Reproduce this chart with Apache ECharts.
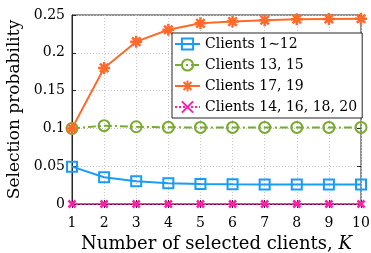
<!DOCTYPE html>
<html>
<head>
<meta charset="utf-8">
<script src="https://cdn.jsdelivr.net/npm/echarts@6/dist/echarts.min.js"></script>
<style>
  html, body { margin: 0; padding: 0; background: #fff; }
  #chart { width: 371px; height: 253px; }
</style>
</head>
<body>
<div id="chart"></div>
<script>
// data
var kValues = ['1', '2', '3', '4', '5', '6', '7', '8', '9', '10']
var clients1to12 = [0.0494, 0.0353, 0.0300, 0.0273, 0.0265, 0.0260, 0.0259, 0.0259, 0.0259, 0.0259]
var clients13and15 = [0.1000, 0.1036, 0.1022, 0.1014, 0.1013, 0.1013, 0.1013, 0.1013, 0.1013, 0.1013]
var clients17and19 = [0.1000, 0.1800, 0.2147, 0.2305, 0.2390, 0.2413, 0.2432, 0.2445, 0.2448, 0.2450]
var clients14to20 = [0, 0, 0, 0, 0, 0, 0, 0, 0, 0]
var yTicks = [0, 0.05, 0.1, 0.15, 0.2, 0.25]

var font = 'DejaVu Serif'
var asterisk = 'path://M0,-5L0,5M-5,0L5,0M-3.5,-3.5L3.5,3.5M-3.5,3.5L3.5,-3.5'
var cross = 'path://M-4,-4L4,4M-4,4L4,-4'

var chart = echarts.init(document.getElementById('chart'))
var option = {
    animation: false,
    textStyle: { fontFamily: font },
    grid: {
        left: 72,
        right: 10,
        top: 15,
        bottom: 49,
        outerBoundsMode: 'none',
        containLabel: false,
        show: true,
        borderColor: '#262626',
        borderWidth: 1
    },
    legend: {
        orient: 'vertical',
        left: 172,
        top: 33,
        padding: [4, 5, 4, 2],
        itemWidth: 25,
        itemHeight: 14,
        itemGap: 7,
        backgroundColor: '#fff',
        borderColor: '#262626',
        borderWidth: 1,
        borderRadius: 0,
        textStyle: { fontFamily: font, fontSize: 14, color: '#000' },
        data: ['Clients 1\u223C12', 'Clients 13, 15', 'Clients 17, 19', 'Clients 14, 16, 18, 20']
    },
    xAxis: [{
        type: 'category',
        boundaryGap: false,
        data: kValues,
        axisLine: { lineStyle: { color: '#262626' } },
        axisTick: { inside: true, length: 4, lineStyle: { color: '#262626' } },
        axisLabel: { color: '#000', fontSize: 14, margin: 12 },
        splitLine: { show: true, lineStyle: { color: '#c8c8c8', type: [1, 2] } },
        name: 'Number of selected clients, {i|K}',
        nameLocation: 'middle',
        nameGap: 29,
        nameTextStyle: {
            color: '#000', fontSize: 18,
            rich: { i: { fontStyle: 'italic', fontSize: 18, color: '#000', fontFamily: font } }
        }
    }, {
        type: 'category',
        position: 'top',
        boundaryGap: false,
        data: kValues,
        axisLine: { show: false },
        axisTick: { inside: true, length: 4, lineStyle: { color: '#262626' } },
        axisLabel: { show: false },
        splitLine: { show: false }
    }],
    yAxis: [{
        type: 'value',
        min: yTicks[0],
        max: yTicks[yTicks.length - 1],
        interval: 0.05,
        axisLine: { show: true, lineStyle: { color: '#262626' } },
        axisTick: { show: true, inside: true, length: 4, lineStyle: { color: '#262626' } },
        axisLabel: { color: '#000', fontSize: 14, margin: 7 },
        splitLine: { show: true, lineStyle: { color: '#c8c8c8', type: [1, 2] } },
        name: 'Selection probability',
        nameLocation: 'middle',
        nameGap: 48,
        nameTextStyle: { color: '#000', fontSize: 17 }
    }, {
        type: 'value',
        position: 'right',
        min: yTicks[0],
        max: yTicks[yTicks.length - 1],
        interval: 0.05,
        axisLine: { show: false },
        axisTick: { show: true, inside: true, length: 4, lineStyle: { color: '#262626' } },
        axisLabel: { show: false },
        splitLine: { show: false }
    }],
    series: [
        {
            name: 'Clients 14, 16, 18, 20',
            type: 'line',
            data: clients14to20,
            z: 5,
            symbol: cross,
            symbolSize: 7,
            lineStyle: { color: '#ff1fa8', width: 2, type: [2, 2] },
            itemStyle: { color: 'rgba(0,0,0,0)', borderColor: '#ff1fa8', borderWidth: 2.5 }
        },
        {
            name: 'Clients 1\u223C12',
            type: 'line',
            data: clients1to12,
            symbol: 'path://M-5,-5L5,-5L5,5L-5,5Z',
            symbolSize: 10,
            lineStyle: { color: '#1a9cf5', width: 2 },
            itemStyle: { color: 'rgba(0,0,0,0)', borderColor: '#1a9cf5', borderWidth: 2 }
        },
        {
            name: 'Clients 13, 15',
            type: 'line',
            data: clients13and15,
            symbol: 'circle',
            symbolSize: 11,
            lineStyle: { color: '#77ac30', width: 2, type: [8, 3, 2, 3] },
            itemStyle: { color: 'rgba(0,0,0,0)', borderColor: '#77ac30', borderWidth: 2 }
        },
        {
            name: 'Clients 17, 19',
            type: 'line',
            data: clients17and19,
            symbol: asterisk,
            symbolSize: 12,
            lineStyle: { color: '#ff6a2b', width: 2 },
            itemStyle: { color: 'rgba(0,0,0,0)', borderColor: '#ff6a2b', borderWidth: 2.5 }
        }
    ]
}
chart.setOption(option)
window.addEventListener('resize', function () { chart.resize() })
</script>
</body>
</html>
